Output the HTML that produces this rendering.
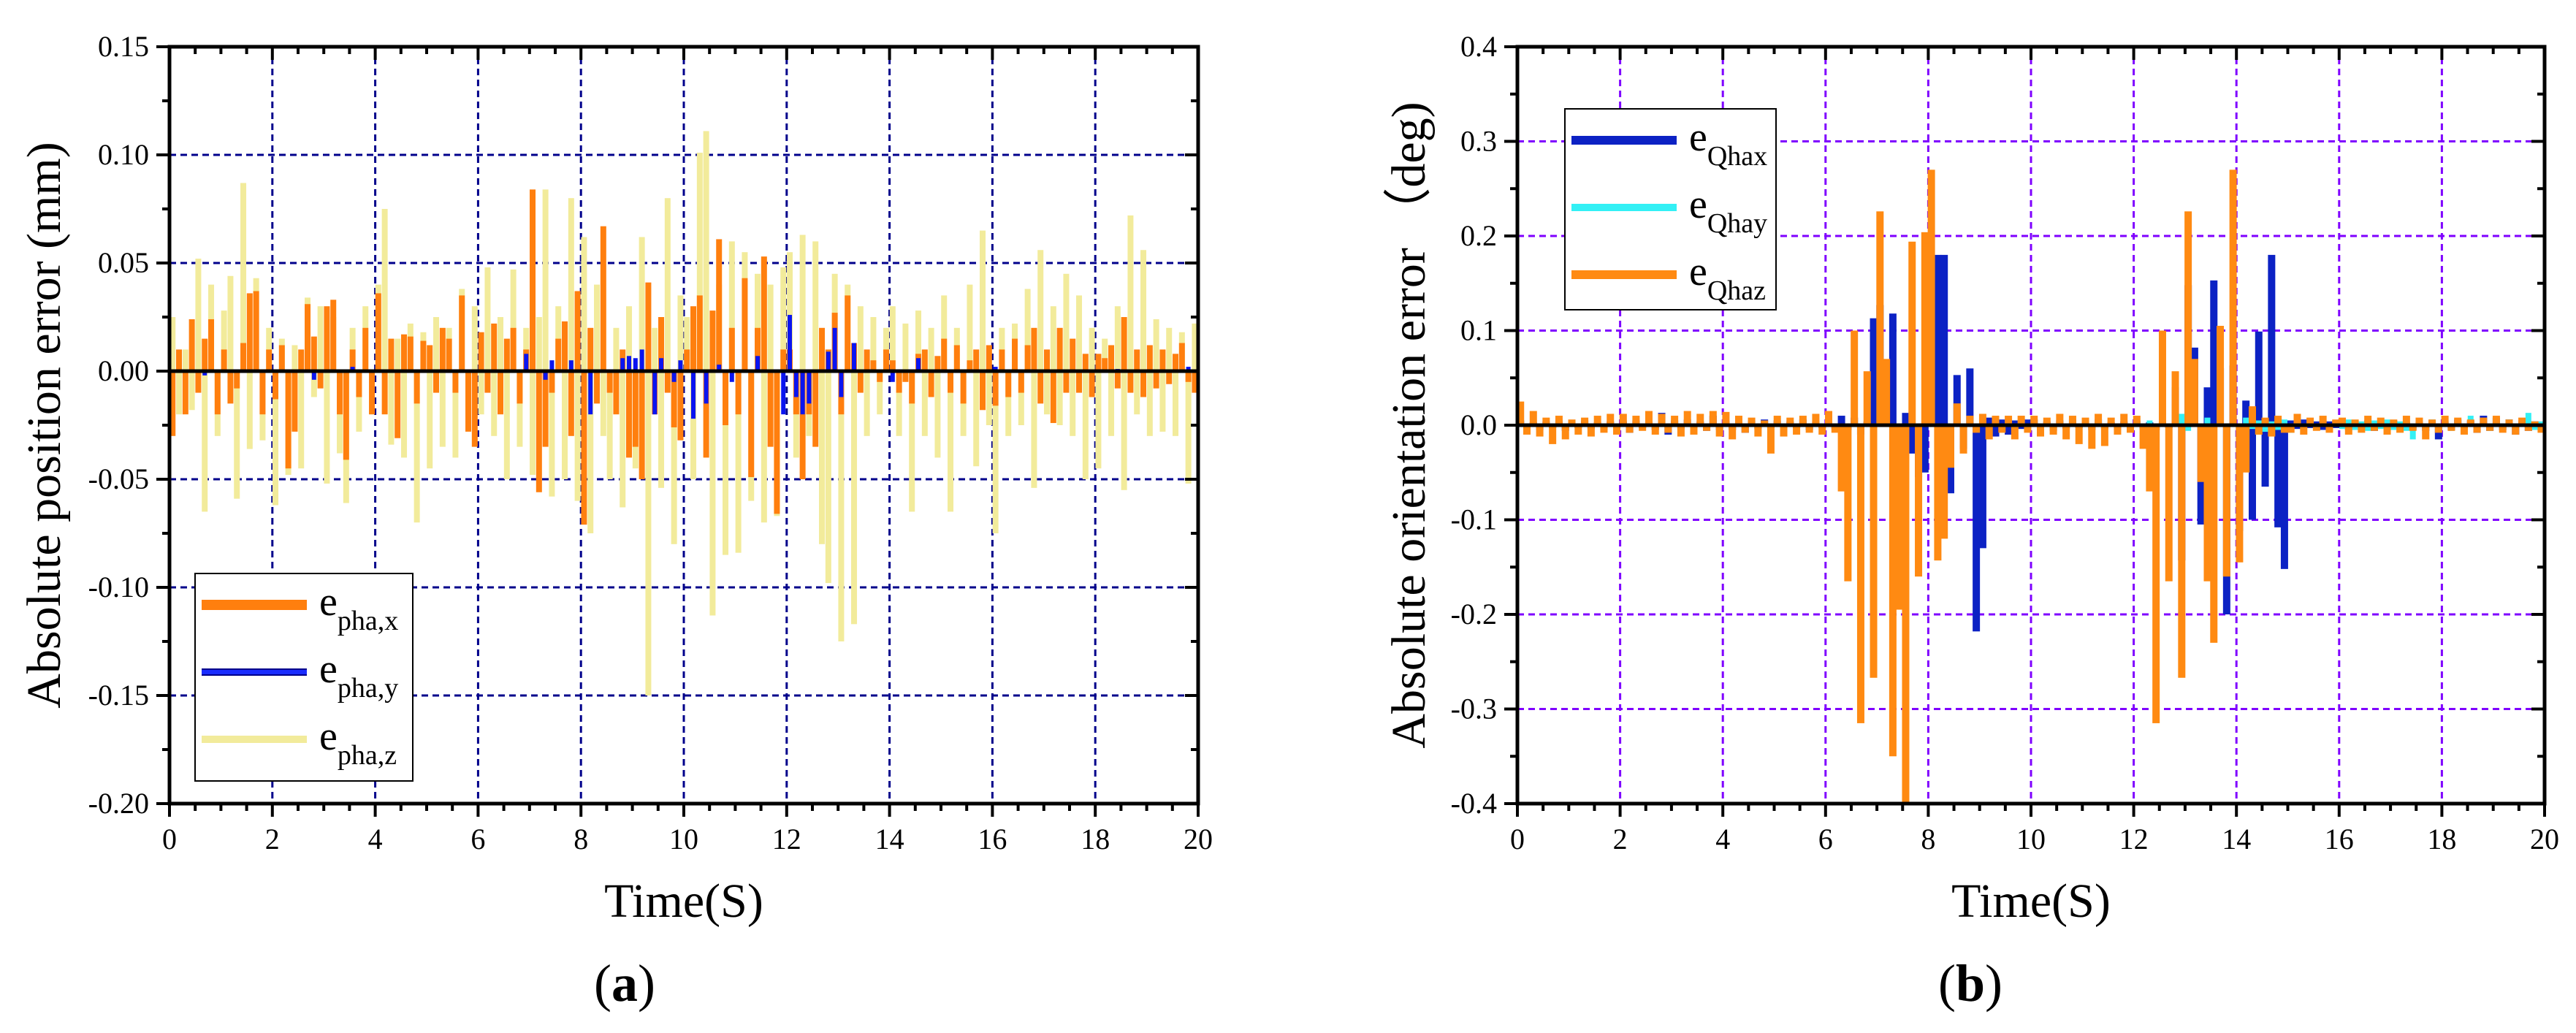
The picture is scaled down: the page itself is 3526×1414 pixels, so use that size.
<!DOCTYPE html>
<html><head><meta charset="utf-8"><style>
html,body{margin:0;padding:0;background:#fff;}
svg{display:block;font-family:"Liberation Serif",serif;}
</style></head><body>
<svg id="s" width="3526" height="1414" viewBox="0 0 3526 1414"></svg>
<script>
const timeStep = 0.125;
const xTicksA = [0,2,4,6,8,10,12,14,16,18,20];
const yTicksA = [0.15,0.10,0.05,0.00,-0.05,-0.10,-0.15,-0.20];
const yTickLabelsA = ["0.15","0.10","0.05","0.00","-0.05","-0.10","-0.15","-0.20"];
const yTicksB = [0.4,0.3,0.2,0.1,0.0,-0.1,-0.2,-0.3,-0.4];
const yTickLabelsB = ["0.4","0.3","0.2","0.1","0.0","-0.1","-0.2","-0.3","-0.4"];
const ephaZ = [0.025,-0.02,0.01,-0.018,0.052,-0.065,0.04,-0.03,
0.028,0.044,-0.059,0.087,-0.036,0.043,-0.032,0.02,
-0.062,0.015,-0.048,0.012,-0.045,0.034,-0.012,0.03,
-0.052,0.025,-0.038,-0.061,0.02,-0.028,0.03,-0.02,
0.04,0.075,-0.034,0.015,-0.04,0.022,-0.07,0.018,
-0.045,0.025,-0.035,0.02,-0.04,0.038,-0.018,0.03,
-0.02,0.048,-0.03,0.025,-0.05,0.047,-0.035,0.02,
-0.048,0.025,0.084,-0.058,0.03,-0.05,0.08,-0.06,
0.062,-0.075,0.04,-0.03,-0.05,0.02,-0.063,0.03,
-0.045,0.062,-0.15,0.02,-0.054,0.08,-0.08,0.035,
0.025,-0.05,0.101,0.111,-0.113,0.04,-0.085,0.06,
-0.084,0.055,-0.06,0.045,-0.07,0.04,-0.067,0.048,
0.055,-0.04,0.063,-0.03,0.06,-0.08,-0.098,0.045,
-0.125,0.04,-0.117,0.03,-0.03,0.025,-0.02,0.02,
0.03,-0.03,0.022,-0.065,0.028,-0.03,0.02,-0.04,
0.035,-0.065,0.02,-0.03,0.04,-0.044,0.065,-0.025,
-0.075,0.02,-0.03,0.022,-0.025,0.038,-0.054,0.056,
-0.02,0.03,-0.025,0.045,-0.03,0.035,-0.05,0.02,
-0.045,0.015,-0.03,0.03,-0.055,0.072,-0.02,0.056,
-0.03,0.024,-0.028,0.02,-0.03,0.018,-0.052,0.022];
const ephaX = [-0.03,0.01,-0.02,0.024,-0.01,0.015,0.024,-0.02,
0.01,-0.015,-0.008,0.013,0.036,0.037,-0.02,0.01,
-0.013,0.012,-0.045,-0.028,0.01,0.031,0.016,-0.008,
0.03,0.033,-0.02,-0.041,0.01,-0.012,0.02,-0.02,
0.036,-0.02,0.015,-0.031,0.017,0.016,-0.015,0.014,
0.012,-0.01,0.02,0.015,-0.01,0.035,-0.028,-0.035,
0.018,-0.01,0.022,-0.02,0.015,0.02,-0.015,0.01,
0.084,-0.056,-0.035,-0.01,0.015,0.023,-0.03,0.037,
-0.071,0.02,-0.015,0.067,-0.01,-0.02,0.01,-0.04,
-0.035,-0.05,0.041,-0.02,0.025,-0.01,-0.026,-0.032,
0.01,0.03,0.035,-0.04,0.028,0.061,-0.025,0.02,
-0.02,0.043,-0.049,0.02,0.053,-0.035,-0.066,0.01,
0.01,-0.02,-0.05,-0.02,-0.035,0.02,0.01,0.027,
-0.02,0.035,0.013,-0.01,0.01,0.005,-0.005,0.01,
0.005,-0.01,-0.005,-0.015,0.008,0.01,-0.012,0.007,
0.015,-0.01,0.012,-0.015,0.005,0.01,-0.018,0.012,
-0.016,0.01,-0.012,0.015,-0.01,0.012,0.02,-0.015,
0.01,-0.024,0.02,-0.01,0.015,-0.01,0.008,-0.012,
0.008,0.006,0.012,-0.008,0.025,-0.01,0.01,-0.012,
0.012,-0.008,0.01,-0.006,0.008,0.013,-0.005,-0.01];
const ephaY = [0,0,0,0,0,-0.002,0,0, 0,0,0,0,0,0,0,0,
0,0,0,0,0,0,-0.004,0, 0,0,0,0,0.002,0,0,0,
0,0,0,0,0,0,0,0, 0,0,0,0,0,0,0,0,
0,0,0,0,0,0,0,0.008, 0,0,-0.004,0.005,0,0,0.005,0,
0,-0.02,0,0,0,0,0.006,0.007, 0.006,0.01,0,-0.02,0.006,0,-0.005,0.005,
0,-0.022,0,-0.015,0,0.003,0,-0.005, 0,0,0,0.007,0,0,0,-0.02,
0.026,-0.012,-0.02,-0.015,0,0,0.009,0.02, -0.012,0,0.013,0,0,0,0,0,
-0.005,0,0,0,0.006,0,0,0, 0,0,0,0,0,0,0,0,
0.002,0,0,0,0,0,0,0, 0,0,0,0,0,0,0,0,
0,0,0,0.001,0,0,0,0, 0,0,0,0,0,0,0.002,0];
const eQz = [0.025,-0.01,0.015,-0.012,0.008,-0.02,0.01,-0.015,
0.006,-0.01,0.008,-0.012,0.01,-0.008,0.012,-0.01,
0.012,-0.008,0.01,-0.006,0.015,-0.01,0.012,-0.008,
0.01,-0.012,0.015,-0.01,0.012,-0.006,0.015,-0.012,
0.014,-0.015,0.01,-0.008,0.008,-0.012,0.005,-0.03,
0.01,-0.012,0.008,-0.01,0.01,-0.008,0.012,-0.01,
0.015,-0.008,-0.07,-0.165,0.10,-0.315,0.057,-0.267,
0.226,0.07,-0.35,-0.195,-0.4,0.194,-0.16,0.204,
0.27,-0.143,-0.12,-0.045,0.023,-0.03,0.01,-0.008,
0.012,-0.015,0.01,-0.008,0.01,-0.015,0.01,-0.008,
0.01,-0.012,0.008,-0.01,0.012,-0.015,0.01,-0.02,
0.008,-0.025,0.012,-0.022,0.008,-0.01,0.012,-0.008,
0.01,-0.025,-0.07,-0.315,0.10,-0.165,0.057,-0.267,
0.226,0.07,-0.06,-0.165,-0.23,0.105,-0.16,0.27,
-0.145,-0.05,0.02,-0.01,0.008,-0.012,0.01,-0.008,
-0.008,0.012,-0.01,0.008,-0.006,0.01,-0.008,0.006,
0.008,-0.01,0.006,-0.008,0.01,-0.006,0.008,-0.01,
0.006,-0.008,0.01,-0.006,0.008,-0.015,0.006,-0.008,
0.01,-0.006,0.008,-0.01,0.006,-0.008,0.008,-0.006,
0.01,-0.008,0.006,-0.01,0.008,-0.006,0.004,-0.008];
const eQx = [0.005,-0.004,0.003,-0.005,0.004,-0.003,0.005,-0.006,
0.004,-0.003,0.005,-0.004,0.003,-0.005,0.004,-0.003,
0.004,-0.008,0.005,-0.003,0.004,-0.005,0.013,-0.01,
0.005,-0.004,0.006,-0.003,0.004,-0.006,0.01,-0.005,
0.004,-0.005,0.003,-0.008,0.005,-0.004,0.006,-0.003,
0.005,-0.006,0.004,-0.003,0.006,-0.005,0.004,-0.003,
0.005,-0.004,0.01,-0.005,0.008,-0.01,0.004,0.113,
0.127,0.048,0.118,-0.15,0.013,-0.03,-0.055,-0.05,
0.062,0.18,0.18,-0.072,0.053,-0.025,0.06,-0.218,
-0.13,0.008,-0.012,0.006,-0.01,0.005,-0.004,0.006,
0.006,-0.005,0.004,-0.006,0.005,-0.004,0.006,-0.003,
0.004,-0.005,0.006,-0.004,0.003,-0.005,0.004,-0.006,
0.005,-0.004,0.003,-0.005,0.004,-0.003,0.04,-0.143,
0.148,0.082,-0.105,0.04,0.153,0.06,-0.2,0.063,
-0.112,0.026,-0.1,0.099,-0.065,0.18,-0.108,-0.152,
0.005,-0.004,0.006,-0.003,0.004,-0.005,0.004,-0.003,
0.004,-0.005,0.003,-0.004,0.005,-0.006,0.004,-0.003,
0.005,-0.004,0.003,-0.005,0.004,-0.006,0.005,-0.015,
0.004,-0.005,0.006,-0.004,0.005,-0.008,0.01,-0.006,
0.008,-0.005,0.006,-0.01,0.005,-0.006,0.004,-0.003];
const eQy = [0,0,0,0,0,0,0,0, 0,0,0,0,0,0,0,0, 0,0,0,0,0,0,0,0, 0,0,0,0,0,0,0,0,
0,0,0,0,0,0,0,0, 0,0,0,0,0,0,0,0, 0,0,0,0,0,0,0,0, 0,0,0,0,0,0,0,0,
0,0,0,0,0,0,0,0, 0,0,0,0,0,0,0,0, 0,0,0,0,0,0,0,0, 0,0,0,0,0,0,0,0,
0.003,-0.004,0.005,-0.003,0.006,-0.005,0.004,0.012, -0.006,0.004,-0.005,0.008,-0.004,0.006,-0.003,0.005,
-0.006,0.008,-0.004,0.005,-0.007,0.004,-0.005,0.006, -0.008,0.005,-0.004,0.006,-0.005,0.004,-0.006,0.005,
-0.004,0.006,-0.005,0.004,-0.006,0.005,-0.004,0.006, -0.005,0.004,-0.006,-0.015,0.005,-0.004,0.006,-0.005,
0.004,-0.006,0.005,-0.004,0.01,-0.005,0.004,-0.006, 0.005,-0.004,0.006,-0.005,0.004,0.013,-0.005,0.004];

const NS="http://www.w3.org/2000/svg";
const svg=document.getElementById('s');
function mk(tag,attrs,parent){const e=document.createElementNS(NS,tag);for(const k in attrs)e.setAttribute(k,attrs[k]);(parent||svg).appendChild(e);return e;}

function chart(cfg){
  const g=mk('g',{});
  
  
  const L=cfg.L,R=cfg.R,T=64,B=1100;
  const xs=v=>L+(v-0)/20*(R-L);
  const ys=v=>T+(cfg.ymax-v)/(cfg.ymax-cfg.ymin)*(B-T);
  xTicksA.forEach(v=>{const l=mk('line',{x1:xs(v),x2:xs(v),y1:T,y2:B,stroke:cfg.grid,'stroke-width':3,'stroke-dasharray':'9 6'},g);
    });
  cfg.yt.forEach(v=>{const l=mk('line',{x1:L,x2:R,y1:ys(v),y2:ys(v),stroke:cfg.grid,'stroke-width':3,'stroke-dasharray':'9 6'},g);
    });
  cfg.series.forEach(s=>{
    const sg=mk('g',{},g);
    
    
    s.data.forEach((v,i)=>{
      if(v===0)return;
      const x=xs(i*timeStep+0.06);
      const r=mk('rect',{x:x-s.w/2,y:Math.min(ys(v),ys(0)),width:s.w,height:Math.abs(ys(v)-ys(0)),fill:s.color},sg);
      
      
    });
  });
  const z=mk('line',{x1:L,x2:R,y1:ys(0),y2:ys(0),stroke:'#000','stroke-width':5},g);
  
  const f=mk('rect',{x:L,y:T,width:R-L,height:B-T,fill:'none',stroke:'#000','stroke-width':5},g);
  
  for(let k=0;k<=40;k++){const v=k*0.5;const maj=k%4===0;
    mk('line',{x1:xs(v),x2:xs(v),y1:B,y2:B+(maj?18:10),stroke:'#000','stroke-width':4},g);
    mk('line',{x1:xs(v),x2:xs(v),y1:T,y2:T+(maj?18:10),stroke:'#000','stroke-width':4},g);}
  xTicksA.forEach(v=>{const t=mk('text',{x:xs(v),y:1162,'font-size':40,'text-anchor':'middle'},g);t.textContent=v;
    });
  const step=(cfg.yt[0]-cfg.yt[1])/2;
  for(let v=cfg.ymin;v<=cfg.ymax+1e-9;v+=step){
    const maj=Math.abs(Math.round(v/step))%2===Math.abs(Math.round(cfg.ymin/step))%2;
    mk('line',{x1:L,x2:L-(maj?18:10),y1:ys(v),y2:ys(v),stroke:'#000','stroke-width':4},g);
    mk('line',{x1:R,x2:R-(maj?18:10),y1:ys(v),y2:ys(v),stroke:'#000','stroke-width':4},g);}
  cfg.yt.forEach((v,i)=>{const t=mk('text',{x:L-28,y:ys(v)+13,'font-size':40,'text-anchor':'end'},g);t.textContent=cfg.ytl[i];
    });
  const xt=mk('text',{x:(L+R)/2,y:1255,'font-size':66,'text-anchor':'middle'},g);xt.textContent='Time(S)';
  
  const yt=mk('text',{x:0,y:0,'font-size':66,'text-anchor':'middle',transform:`translate(${cfg.ytx},582) rotate(-90)`},g);yt.textContent=cfg.ytitle;
  
  const pl=mk('text',{x:cfg.plx,y:1370,'font-size':72,'text-anchor':'middle'},g);
  pl.innerHTML='(<tspan font-weight="bold">'+cfg.panel+'</tspan>)';
  
  const lg=mk('g',{},g);
  mk('rect',{x:cfg.lg.x,y:cfg.lg.y,width:cfg.lg.w,height:cfg.lg.h,fill:'#fff',stroke:'#000','stroke-width':2},lg);
  cfg.lg.items.forEach((it,i)=>{
    const y=cfg.lg.y0+i*cfg.lg.dy;
    const e=mk('g',{},lg);
    if(it.outline)mk('line',{x1:cfg.lg.x+9,x2:cfg.lg.x+153,y1:y,y2:y,stroke:it.outline,'stroke-width':it.w+4},e);
    mk('line',{x1:cfg.lg.x+9,x2:cfg.lg.x+153,y1:y,y2:y,stroke:it.color,'stroke-width':it.w},e);
    const t=mk('text',{x:cfg.lg.x+170,y:y+14,'font-size':56},e);
    t.innerHTML='e<tspan font-size="38" dy="20">'+it.sub+'</tspan>';
  });
}

chart({name:'chart-a-position-error',L:232,R:1640,ymax:0.15,ymin:-0.20,yt:yTicksA,ytl:yTickLabelsA,grid:'#00008b',
  ytitle:'Absolute position error (mm)',ytx:82,plx:855,panel:'a',
  series:[{name:'series-epha-z',data:ephaZ,color:'#f2eb9b',w:8},{name:'series-epha-x',data:ephaX,color:'#ff7f0e',w:8},{name:'series-epha-y',data:ephaY,color:'#0a14f0',w:6}],
  lg:{x:267,y:785,w:298,h:284,y0:828,dy:92,items:[{color:'#ff7f0e',w:14,sub:'pha,x'},{color:'#1a2cff',outline:'#00008b',w:6,sub:'pha,y'},{color:'#f2eb9b',w:10,sub:'pha,z'}]}});
chart({name:'chart-b-orientation-error',L:2077,R:3483,ymax:0.4,ymin:-0.4,yt:yTicksB,ytl:yTickLabelsB,grid:'#7f00ff',
  ytitle:'Absolute orientation error （deg)',ytx:1950,plx:2697,panel:'b',
  series:[{name:'series-eQhax',data:eQx,color:'#0c22c4',w:10},{name:'series-eQhay',data:eQy,color:'#33f0f5',w:8},{name:'series-eQhaz',data:eQz,color:'#ff8a12',w:10}],
  lg:{x:2142,y:149,w:289,h:275,y0:192,dy:92,items:[{color:'#0c22c4',w:12,sub:'Qhax'},{color:'#33f0f5',w:10,sub:'Qhay'},{color:'#ff8a12',w:12,sub:'Qhaz'}]}});
</script>
</body></html>
